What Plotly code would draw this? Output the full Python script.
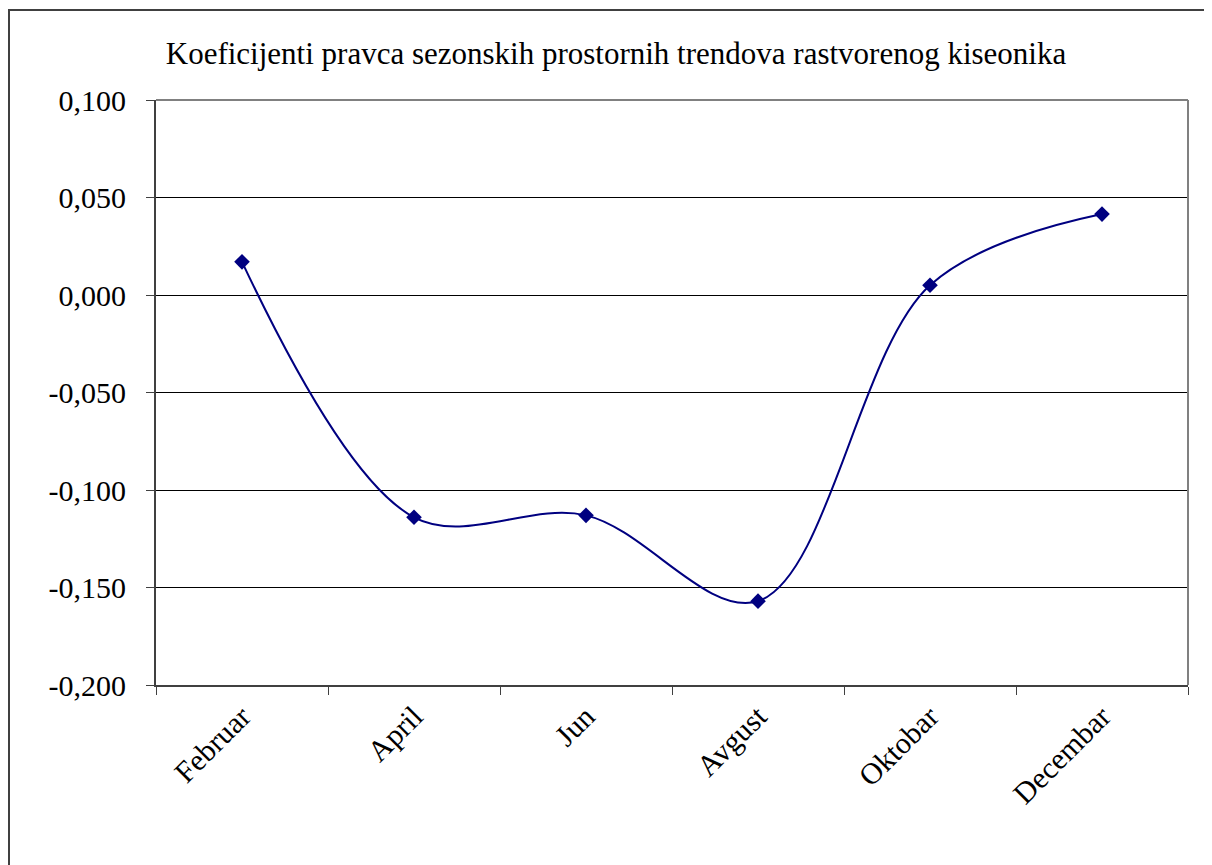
import plotly.graph_objects as go

months = ["Februar", "April", "Jun", "Avgust", "Oktobar", "Decembar"]
coef = [0.017, -0.114, -0.113, -0.157, 0.005, 0.0415]
y_ticks = [-0.2, -0.15, -0.1, -0.05, 0.0, 0.05, 0.1]
y_labels = ["-0,200", "-0,150", "-0,100", "-0,050", "0,000", "0,050", "0,100"]

W, H = 1212, 865
OFF = 8  # page body offset
L, R, T, B = 156 - OFF, 1212 - 1188 + OFF, 100 - OFF, 865 - 685 + OFF
pw, ph = W - L - R, H - T - B

fig = go.Figure()
fig.add_trace(go.Scatter(
    x=months, y=coef, mode="lines+markers",
    line=dict(color="#000080", width=2, shape="spline", smoothing=1.0),
    marker=dict(symbol="diamond", size=12, color="#000080"),
    showlegend=False,
))

def px_x(p):
    return (p - OFF - L) / pw

def px_y(p):
    return (H - B - (p - OFF)) / ph

fig.add_shape(type="rect", xref="paper", yref="paper",
              x0=px_x(9), x1=px_x(1240), y0=px_y(10), y1=px_y(900),
              line=dict(color="#404040", width=2), layer="below")

FONT = "Liberation Serif, DejaVu Serif, serif"
fig.update_layout(
    width=W, height=H,
    margin=dict(l=L, r=R, t=T, b=B),
    paper_bgcolor="white", plot_bgcolor="white",
    font=dict(family=FONT, color="black"),
    title=dict(text="Koeficijenti pravca sezonskih prostornih trendova rastvorenog kiseonika",
               x=(616 - OFF) / W, xanchor="center", xref="container",
               y=1 - (53 - OFF) / H, yanchor="middle",
               font=dict(size=31, family=FONT)),
    xaxis=dict(
        type="category", tickangle=-45, tickson="boundaries",
        ticks="outside", ticklen=8, tickcolor="#404040", tickwidth=1,
        showline=True, linecolor="#404040", linewidth=2, mirror=False,
        showgrid=False, tickfont=dict(size=30),
        range=[-0.5, 5.5],
    ),
    yaxis=dict(
        range=[-0.2, 0.1], tickvals=y_ticks, ticktext=y_labels,
        ticks="outside", ticklen=8, tickcolor="#404040", tickwidth=1,
        showline=True, linecolor="#404040", linewidth=2,
        showgrid=True, gridcolor="black", gridwidth=1, zeroline=False,
        tickfont=dict(size=30), ticklabelstandoff=14,
    ),
)
fig.add_shape(type="line", xref="paper", yref="paper", x0=0, x1=1, y0=1, y1=1,
              line=dict(color="#808080", width=2))
fig.add_shape(type="line", xref="paper", yref="paper", x0=1, x1=1, y0=0, y1=1,
              line=dict(color="#808080", width=2))

fig.write_html("out.html")
